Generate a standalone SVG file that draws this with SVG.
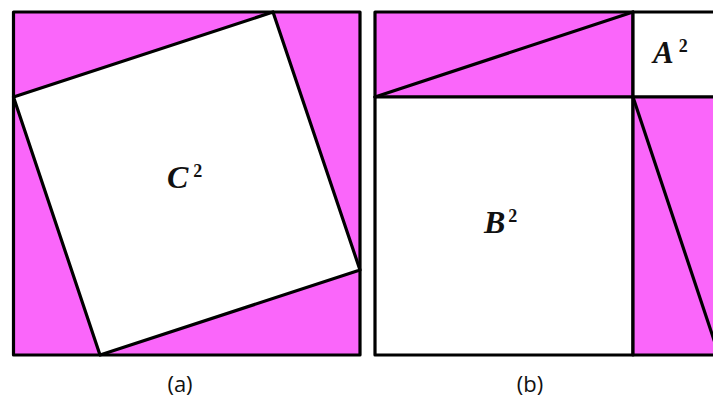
<svg xmlns="http://www.w3.org/2000/svg" width="713" height="398" viewBox="0 0 713 398">
<style>
.pink{fill:#fa66fa;stroke:#000;stroke-width:3.2;stroke-linejoin:round}
.white{fill:#fff;stroke:#000;stroke-width:3.2;stroke-linejoin:round}
.ln{fill:none;stroke:#000;stroke-width:3.2;stroke-linecap:round}
.m{font-family:"Liberation Serif","DejaVu Serif",serif;font-weight:bold;font-style:italic;fill:#111}
.sup{font-size:18px;font-style:normal}
.cap{font-family:"Open Sans","Noto Sans",sans-serif;font-size:22px;fill:#111;text-anchor:middle}
</style>
<rect width="713" height="398" fill="#fff"/>
<g id="panel-a">
<rect class="pink" x="13.5" y="12" width="346.5" height="343"/>
<polygon class="white" points="13.5,97 273,12 360,270 100,355"/>
<text class="m" x="167" y="188" font-size="32">C<tspan class="sup" dx="5" dy="-11">2</tspan></text>
</g>
<g id="panel-b">
<rect class="pink" x="375" y="12" width="258" height="85"/>
<rect class="white" x="633" y="12" width="86" height="85"/>
<rect class="white" x="375" y="97" width="258" height="258"/>
<rect class="pink" x="633" y="97" width="86" height="258"/>
<text class="m" x="484" y="233" font-size="32">B<tspan class="sup" dx="3" dy="-11">2</tspan></text>
<text class="m" x="653" y="63" font-size="31">A<tspan class="sup" dx="5" dy="-11">2</tspan></text>
</g>
<g id="connectors">
<line class="ln" x1="375" y1="97" x2="633" y2="12"/>
<line class="ln" x1="633" y1="97" x2="719" y2="355"/>
</g>
<text class="cap" x="180" y="392">(a)</text>
<text class="cap" x="530" y="392">(b)</text>
</svg>
